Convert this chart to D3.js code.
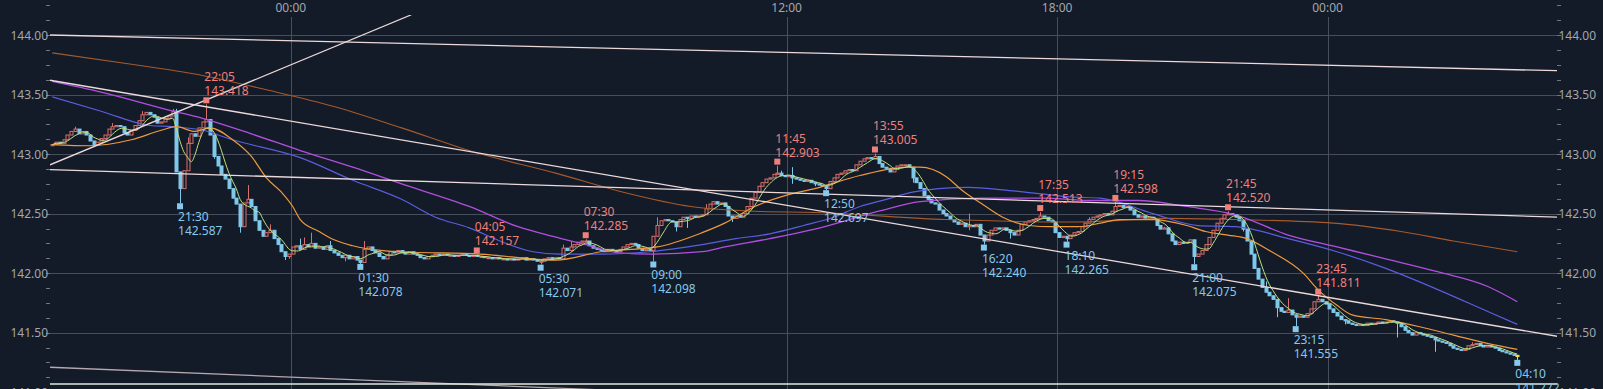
<!DOCTYPE html>
<html>
<head>
<meta charset="utf-8">
<script src="https://cdn.jsdelivr.net/npm/d3@7"></script>
<style>
  html, body { margin: 0; padding: 0; background: #131a28; overflow: hidden; }
  svg { display: block; font-family: "Noto Sans", sans-serif; }
</style>
</head>
<body>
<div class="viewbox"></div>
<script>
// 5 minute candles, index 0 = 18:40, index 390 = 04:10 (06:00-06:55 has no candles)
// closes in 1/100 yen
const closes = [
  14308,14310,14309,14312,14316,14319,14321,14317,14319,14316,
  14311,14308,14310,14313,14316,14321,14323,14324,14323,14318,
  14316,14320,14324,14328,14333,14335,14333,14331,14326,14327,
  14330,14332,14336,14285,14271,14286,14309,14317,14315,14322,
  14327,14329,14316,14298,14290,14283,14279,14271,14263,14258,
  14239,14259,14262,14256,14244,14236,14231,14234,14236,14229,
  14224,14218,14214,14216,14222,14223,14220,14224,14222,14225,
  14221,14222,14220,14223,14219,14217,14215,14213,14215,14212,
  14214,14211,14209,14220,14222,14219,14217,14214,14212,14215,
  14218,14217,14219,14217,14216,14218,14216,14215,14213,14212,
  14214,14215,14216,14215,14216,14215,14215,14214,14215,14216,
  14215,14214,14215,14214,14214,14213,14213,14212,14213,14212,
  14212,14211,14212,14211,14212,14213,14211,14212,14211,14210,
  14210,14212,14213,14212,14213,14212,14221,14219,14222,14224,
  14226,14227,14227,14223,14221,14220,14219,14218,14220,14219,
  14218,14220,14222,14224,14225,14224,14221,14219,14220,14219,
  14231,14240,14244,14245,14244,14243,14239,14245,14247,14246,
  14248,14247,14248,14249,14254,14258,14260,14258,14259,14256,
  14248,14246,14248,14247,14250,14256,14263,14268,14273,14276,
  14279,14280,14283,14284,14282,14281,14282,14280,14279,14278,
  14277,14278,14276,14275,14274,14273,14271,14277,14280,14283,
  14284,14286,14287,14286,14291,14294,14296,14297,14296,14298,
  14292,14289,14288,14285,14287,14290,14291,14291,14289,14280,
  14276,14271,14265,14262,14259,14258,14253,14250,14248,14245,
  14243,14241,14242,14239,14240,14239,14241,14232,14227,14232,
  14236,14238,14237,14238,14236,14234,14232,14236,14241,14243,
  14244,14245,14246,14248,14247,14244,14243,14234,14230,14231,
  14229,14232,14234,14235,14239,14242,14245,14247,14248,14249,
  14250,14249,14252,14256,14257,14255,14256,14253,14249,14247,
  14248,14246,14247,14246,14240,14237,14238,14233,14227,14224,
  14226,14225,14226,14228,14214,14216,14219,14224,14230,14236,
  14242,14246,14249,14250,14249,14247,14244,14237,14227,14216,
  14204,14195,14188,14184,14181,14178,14171,14168,14167,14169,
  14165,14163,14164,14163,14166,14170,14176,14178,14176,14174,
  14170,14167,14164,14161,14160,14158,14157,14156,14157,14156,
  14158,14157,14158,14159,14158,14159,14160,14159,14158,14155,
  14152,14150,14148,14150,14149,14148,14147,14146,14144,14143,
  14142,14141,14139,14137,14136,14135,14136,14139,14140,14141,
  14139,14138,14139,14138,14137,14135,14134,14133,14132,14131,
  14130
];
const firstOpen = 143.07;

// visible wicks: [index, high, low]  (null = no wick on that side)
const wicks = [
  [6,143.23,null],[16,143.26,null],[24,143.36,null],[32,143.38,null],[33,143.38,null],
  [34,null,142.587],[36,143.14,null],[41,143.418,null],[43,null,142.96],[50,null,142.34],
  [52,142.74,null],[58,142.41,null],[62,null,142.11],[63,null,142.12],[66,142.29,null],
  [67,142.30,null],[69,142.34,null],[74,142.27,null],[78,null,142.10],[82,null,142.078],
  [83,142.27,null],[113,142.157,null],[130,null,142.071],[136,142.24,null],[138,142.27,null],
  [142,142.285,null],[160,null,142.098],[161,142.47,null],[166,null,142.35],[169,null,142.38],
  [174,142.58,null],[181,null,142.43],[193,142.903,null],[194,142.86,null],[197,142.89,142.75],
  [203,null,142.73],[206,null,142.697],[219,143.005,null],[229,null,142.76],[244,142.50,142.36],
  [248,null,142.240],[255,null,142.29],[263,142.513,null],[270,null,142.265],[276,142.47,null],
  [283,142.598,null],[296,142.39,null],[301,142.27,null],[304,null,142.075],[313,142.520,null],
  [317,null,142.35],[323,141.93,null],[326,null,141.63],[329,141.79,null],[331,null,141.555],
  [337,141.811,null],[344,null,141.57],[358,null,141.46],[368,null,141.34],[378,141.42,null],
  [390,141.31,141.272]
];

// moving averages: [index, price]
const maOrange = [[0,143.08],[10,143.07],[21,143.12],[29,143.20],[33,143.23],[38,143.19],[42,143.22],
  [48,143.12],[53,142.98],[57,142.80],[61,142.68],[64,142.56],[66,142.45],[71,142.35],[75,142.28],
  [80,142.23],[88,142.19],[93,142.18],[114,142.16],[134,142.11],[146,142.18],[161,142.22],[173,142.34],
  [179,142.42],[187,142.56],[196,142.66],[203,142.71],[215,142.82],[228,142.89],[231,142.89],
  [238,142.81],[242,142.70],[248,142.57],[253,142.47],[260,142.40],[266,142.39],[273,142.39],
  [279,142.42],[284,142.45],[293,142.45],[302,142.40],[307,142.35],[313,142.32],[318,142.29],
  [324,142.19],[333,142.00],[337,141.86],[342,141.73],[346,141.65],[355,141.61],[364,141.55],
  [373,141.48],[382,141.41],[390,141.36]];
const maBlue = [[0,143.48],[13,143.36],[26,143.24],[32,143.23],[40,143.20],[48,143.12],[66,142.97],
  [80,142.78],[93,142.62],[102,142.47],[111,142.38],[120,142.26],[128,142.18],[135,142.16],[146,142.16],
  [159,142.18],[173,142.24],[182,142.29],[191,142.33],[200,142.40],[208,142.47],[215,142.56],
  [222,142.62],[229,142.68],[236,142.71],[244,142.72],[253,142.70],[262,142.67],[271,142.64],
  [279,142.63],[293,142.50],[305,142.40],[315,142.39],[329,142.29],[342,142.18],[355,142.04],
  [369,141.86],[382,141.68],[390,141.57]];
const maPurple = [[0,143.61],[13,143.52],[31,143.37],[40,143.30],[53,143.17],[66,143.03],[80,142.89],
  [93,142.75],[111,142.56],[124,142.39],[133,142.31],[142,142.24],[151,142.17],[160,142.16],
  [173,142.18],[179,142.22],[191,142.29],[203,142.37],[220,142.52],[231,142.60],[247,142.63],
  [264,142.63],[277,142.61],[289,142.61],[302,142.56],[315,142.49],[329,142.32],[342,142.22],
  [355,142.12],[369,142.01],[382,141.89],[390,141.76]];
const maBrown = [[0,143.85],[22,143.75],[40,143.66],[57,143.54],[75,143.40],[93,143.22],[112,143.02],
  [134,142.84],[152,142.68],[170,142.56],[187,142.52],[203,142.51],[238,142.45],[273,142.43],
  [297,142.46],[315,142.45],[341,142.42],[359,142.35],[373,142.27],[390,142.18]];
const maGreenPeriod = 5;

// drawn lines: [index1, price1, index2, price2]
const trendLines = [
  [-0.6,144.00,400.6,143.70],
  [-0.6,143.62,400.6,141.47],
  [-0.6,142.87,400.6,142.47],
  [-0.6,142.91,95.6,144.17],
  [-0.6,141.21,146,141.02]
];
const flatLine = 141.07;

const highs = [[41,"22:05",143.418],[113,"04:05",142.157],[142,"07:30",142.285],[193,"11:45",142.903],
  [219,"13:55",143.005],[263,"17:35",142.513],[283,"19:15",142.598],[313,"21:45",142.520],[337,"23:45",141.811]];
const lows = [[34,"21:30",142.587],[82,"01:30",142.078],[130,"05:30",142.071],[160,"09:00",142.098],
  [206,"12:50",142.697],[248,"16:20",142.240],[270,"18:10",142.265],[304,"21:00",142.075],
  [331,"23:15",141.555],[390,"04:10",141.272]];

const timeTicks = [[64,"00:00"],[196,"12:00"],[268,"18:00"],[340,"00:00"]];
const priceTicks = [141.0, 141.5, 142.0, 142.5, 143.0, 143.5, 144.0];

const svg_width = 1603;
const svg_height = 389;
const plotLeft = 50, plotRight = 1557, plotTop = 15;

let svg = d3.select(".viewbox")
  .append("svg")
  .attr("width", svg_width)
  .attr("height", svg_height);

svg.append("rect").attr("width", svg_width).attr("height", svg_height).attr("fill", "#131a28");

let x = d3.scaleLinear().domain([0, 390]).range([52.3, 1517.3]);
let y = d3.scaleLinear().domain([141.5, 144]).range([332.7, 35]);

// build candles
let candles = closes.map((c, i) => {
  let close = c / 100;
  let open = i === 0 ? firstOpen : closes[i - 1] / 100;
  return { i, open, close, high: Math.max(open, close), low: Math.min(open, close) };
});
wicks.forEach(([i, h, l]) => {
  if (h !== null) candles[i].high = h;
  if (l !== null) candles[i].low = l;
});

// grid
let grid = svg.append("g");
grid.selectAll("line.h")
  .data(priceTicks)
  .enter().append("line")
  .attr("x1", plotLeft).attr("x2", plotRight)
  .attr("y1", d => Math.round(y(d)) + 0.5).attr("y2", d => Math.round(y(d)) + 0.5)
  .attr("stroke", "#474d5a").attr("stroke-width", 1);
grid.selectAll("line.v")
  .data(timeTicks)
  .enter().append("line")
  .attr("x1", d => Math.round(x(d[0]) - 1.9) + 0.5).attr("x2", d => Math.round(x(d[0]) - 1.9) + 0.5)
  .attr("y1", 17).attr("y2", svg_height)
  .attr("stroke", "#474d5a").attr("stroke-width", 1);

// minor ticks on both price axes
let minor = d3.range(141.0, 144.3, 0.125);
svg.append("g").selectAll("line")
  .data(minor)
  .enter().append("line")
  .attr("x1", 46).attr("x2", 50)
  .attr("y1", d => Math.round(y(d)) + 0.5).attr("y2", d => Math.round(y(d)) + 0.5)
  .attr("stroke", "#70757f");
svg.append("g").selectAll("line")
  .data(minor)
  .enter().append("line")
  .attr("x1", plotRight).attr("x2", plotRight + 4)
  .attr("y1", d => Math.round(y(d)) + 0.5).attr("y2", d => Math.round(y(d)) + 0.5)
  .attr("stroke", "#70757f");

// axis labels
svg.append("g").selectAll("text")
  .data(priceTicks)
  .enter().append("text")
  .attr("x", 48).attr("y", d => y(d) + 4.5)
  .attr("text-anchor", "end")
  .attr("font-size", 12).attr("fill", "#a3a7ae")
  .text(d => d.toFixed(2));
svg.append("g").selectAll("text")
  .data(priceTicks)
  .enter().append("text")
  .attr("x", plotRight + 1.5).attr("y", d => y(d) + 4.5)
  .attr("font-size", 12).attr("fill", "#a3a7ae")
  .text(d => d.toFixed(2));
svg.append("g").selectAll("text")
  .data(timeTicks)
  .enter().append("text")
  .attr("x", d => x(d[0]) - 1.9).attr("y", 12)
  .attr("text-anchor", "middle")
  .attr("font-size", 12).attr("fill", "#a3a7ae")
  .text(d => d[1]);

// plot clip
svg.append("clipPath").attr("id", "plot")
  .append("rect").attr("x", plotLeft).attr("y", plotTop)
  .attr("width", plotRight - plotLeft).attr("height", svg_height - plotTop);
let plot = svg.append("g").attr("clip-path", "url(#plot)");

// candles
const UP = "#d8706c", DOWN = "#7ec8ea", LAST = "#f2e04a";
let cg = plot.append("g");
cg.selectAll("line")
  .data(candles)
  .enter().append("line")
  .attr("x1", d => Math.round(x(d.i)) + 0.5).attr("x2", d => Math.round(x(d.i)) + 0.5)
  .attr("y1", d => y(d.high)).attr("y2", d => y(d.low))
  .attr("stroke", d => d.i === 390 ? LAST : (d.close >= d.open ? UP : DOWN))
  .attr("stroke-width", 1);
cg.selectAll("rect")
  .data(candles)
  .enter().append("rect")
  .attr("x", d => Math.round(x(d.i)) - 1)
  .attr("width", 3)
  .attr("y", d => y(Math.max(d.open, d.close)))
  .attr("height", d => Math.max(1, y(Math.min(d.open, d.close)) - y(Math.max(d.open, d.close))))
  .attr("fill", d => d.i === 390 ? LAST : (d.close >= d.open ? "#131a28" : DOWN))
  .attr("stroke", d => d.i === 390 ? LAST : (d.close >= d.open ? UP : DOWN))
  .attr("stroke-width", 1);

// moving averages
let maLine = d3.line().x(d => x(d[0])).y(d => y(d[1])).curve(d3.curveMonotoneX);
let green = candles.map((d, i) => {
  let win = candles.slice(Math.max(0, i - maGreenPeriod + 1), i + 1);
  return [i, d3.mean(win, c => c.close)];
});
[[maBrown, "#a65a2c", 1.1], [maPurple, "#b24fe0", 1.3], [maBlue, "#5a5ee0", 1.2],
 [maOrange, "#ee9a3c", 1.2], [green, "#bde27e", 1]].forEach(([pts, col, w]) => {
  plot.append("path")
    .attr("d", maLine(pts))
    .attr("fill", "none")
    .attr("stroke", col)
    .attr("stroke-width", w);
});

// trend lines
plot.selectAll("line.trend")
  .data(trendLines)
  .enter().append("line")
  .attr("x1", d => x(d[0])).attr("y1", d => y(d[1]))
  .attr("x2", d => x(d[2])).attr("y2", d => y(d[3]))
  .attr("stroke", (d, i) => i === 4 ? "#b7a8ae" : "#ecd9d9")
  .attr("stroke-width", 1.3);
plot.append("line")
  .attr("x1", plotLeft).attr("x2", plotRight)
  .attr("y1", y(flatLine)).attr("y2", y(flatLine))
  .attr("stroke", "#dfe8dc").attr("stroke-width", 1.5);

// high / low markers
const HI = "#f0807a", LO = "#86c9ec";
let hg = svg.append("g");
hg.selectAll("rect")
  .data(highs)
  .enter().append("rect")
  .attr("x", d => x(d[0]) - 3).attr("y", d => y(d[2]) - 7)
  .attr("width", 6).attr("height", 6)
  .attr("fill", HI);
hg.selectAll("text.t")
  .data(highs)
  .enter().append("text")
  .attr("x", d => x(d[0]) - 2).attr("y", d => y(d[2]) - 23)
  .attr("font-size", 12).attr("fill", HI)
  .text(d => d[1]);
hg.selectAll("text.v")
  .data(highs)
  .enter().append("text")
  .attr("x", d => x(d[0]) - 2).attr("y", d => y(d[2]) - 9)
  .attr("font-size", 12).attr("fill", HI)
  .text(d => d[2].toFixed(3));

let lg = svg.append("g");
lg.selectAll("rect")
  .data(lows)
  .enter().append("rect")
  .attr("x", d => x(d[0]) - 3).attr("y", d => y(d[2]) + 0)
  .attr("width", 6).attr("height", 6)
  .attr("fill", LO);
lg.selectAll("text.t")
  .data(lows)
  .enter().append("text")
  .attr("x", d => x(d[0]) - 2).attr("y", d => y(d[2]) + 18)
  .attr("font-size", 12).attr("fill", LO)
  .text(d => d[1]);
lg.selectAll("text.v")
  .data(lows)
  .enter().append("text")
  .attr("x", d => x(d[0]) - 2).attr("y", d => y(d[2]) + 32)
  .attr("font-size", 12).attr("fill", LO)
  .text(d => d[2].toFixed(3));
</script>
</body>
</html>
